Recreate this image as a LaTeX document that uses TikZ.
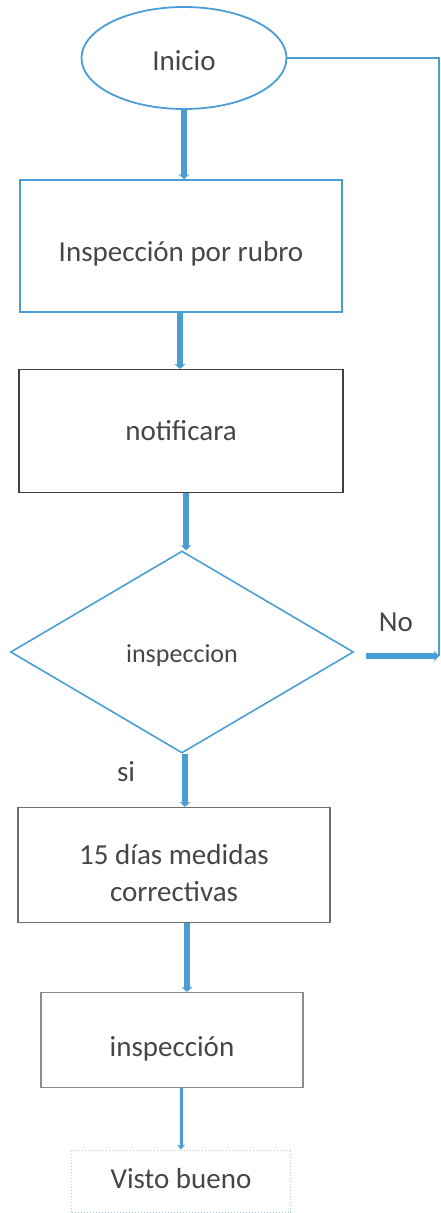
\documentclass[tikz,border=0pt]{standalone}
\usepackage{fontspec}
\setmainfont{Carlito}
\usetikzlibrary{shapes.geometric,arrows.meta}
\definecolor{flowblue}{RGB}{74,158,212}
\definecolor{txtgray}{RGB}{70,70,70}
\definecolor{boxgray}{RGB}{110,110,110}
\definecolor{dotblue}{RGB}{170,205,225}
\newcommand{\lowertext}[2]{\raisebox{-#1}[\height][\depth]{#2}}
\tikzset{
  x=1pt, y=-1pt,
  every node/.style={text=txtgray, font=\fontsize{29}{37}\selectfont},
  bluebox/.style={draw=flowblue, line width=1.6pt, rectangle, inner sep=0pt},
  graybox/.style={draw=boxgray, line width=1.2pt, rectangle, inner sep=0pt},
  thickarrow/.style={draw=flowblue, line width=5.5pt, -{Stealth[length=5pt,width=11pt]}},
  thinarrow/.style={draw=flowblue, line width=3pt, -{Stealth[length=5pt,width=8pt]}},
  thinline/.style={draw=flowblue, line width=1.3pt},
}
\begin{document}
\begin{tikzpicture}
\useasboundingbox (0,0) rectangle (441,1213);
\node[ellipse, draw=flowblue, line width=1.8pt, minimum width=205pt, minimum height=102pt, inner sep=0pt] (ini) at (184,58) {\lowertext{3pt}{Inicio}};
\node[bluebox, minimum width=322pt, minimum height=132pt] (b1) at (181,246) {\lowertext{8pt}{Inspección por rubro}};
\node[graybox, draw=black!75, minimum width=324pt, minimum height=123pt] (b2) at (181,431) {notificara};
\node[diamond, draw=flowblue, line width=1.6pt, minimum width=343pt, minimum height=202pt, inner sep=0pt, font=\fontsize{26}{31}\selectfont] (dec) at (182,652) {\lowertext{4pt}{inspeccion}};
\node[graybox, minimum width=312pt, minimum height=115pt, align=center] (b3) at (174,865) {\lowertext{8pt}{\parbox{300pt}{\centering 15 días medidas\\correctivas}}};
\node[graybox, draw=boxgray!80, minimum width=262pt, minimum height=95pt] (b4) at (172,1040) {\lowertext{9pt}{inspección}};
\node[draw=dotblue, dotted, line width=1pt, rectangle, minimum width=219pt, minimum height=62pt, inner sep=0pt] (b5) at (181,1181) {\lowertext{-2pt}{Visto bueno}};
\node (no) at (396,622) {No};
\node (si) at (126,772) {si};
\coordinate (tr) at (439,58);
\coordinate (br) at (439,656);
\draw[thickarrow] (ini.south) -- (ini.south |- b1.north);
\draw[thickarrow] ([xshift=-1pt]b1.south) -- ([xshift=-1pt]b1.south |- b2.north);
\draw[thickarrow] ([xshift=5pt]b2.south) -- ([xshift=5pt]b2.south |- dec.north);
\draw[thickarrow] ([xshift=3pt]dec.south) -- ([xshift=3pt]dec.south |- b3.north);
\draw[thickarrow] ([xshift=13pt]b3.south) -- ([xshift=13pt]b3.south |- b4.north);
\draw[thinarrow] (b4.south -| b5.north) -- (b5.north);
\draw[thinline] (ini.east) -- (tr) -- (br);
\draw[thickarrow] ([xshift=12pt,yshift=-4pt]dec.east) -- (br);
\end{tikzpicture}
\end{document}
